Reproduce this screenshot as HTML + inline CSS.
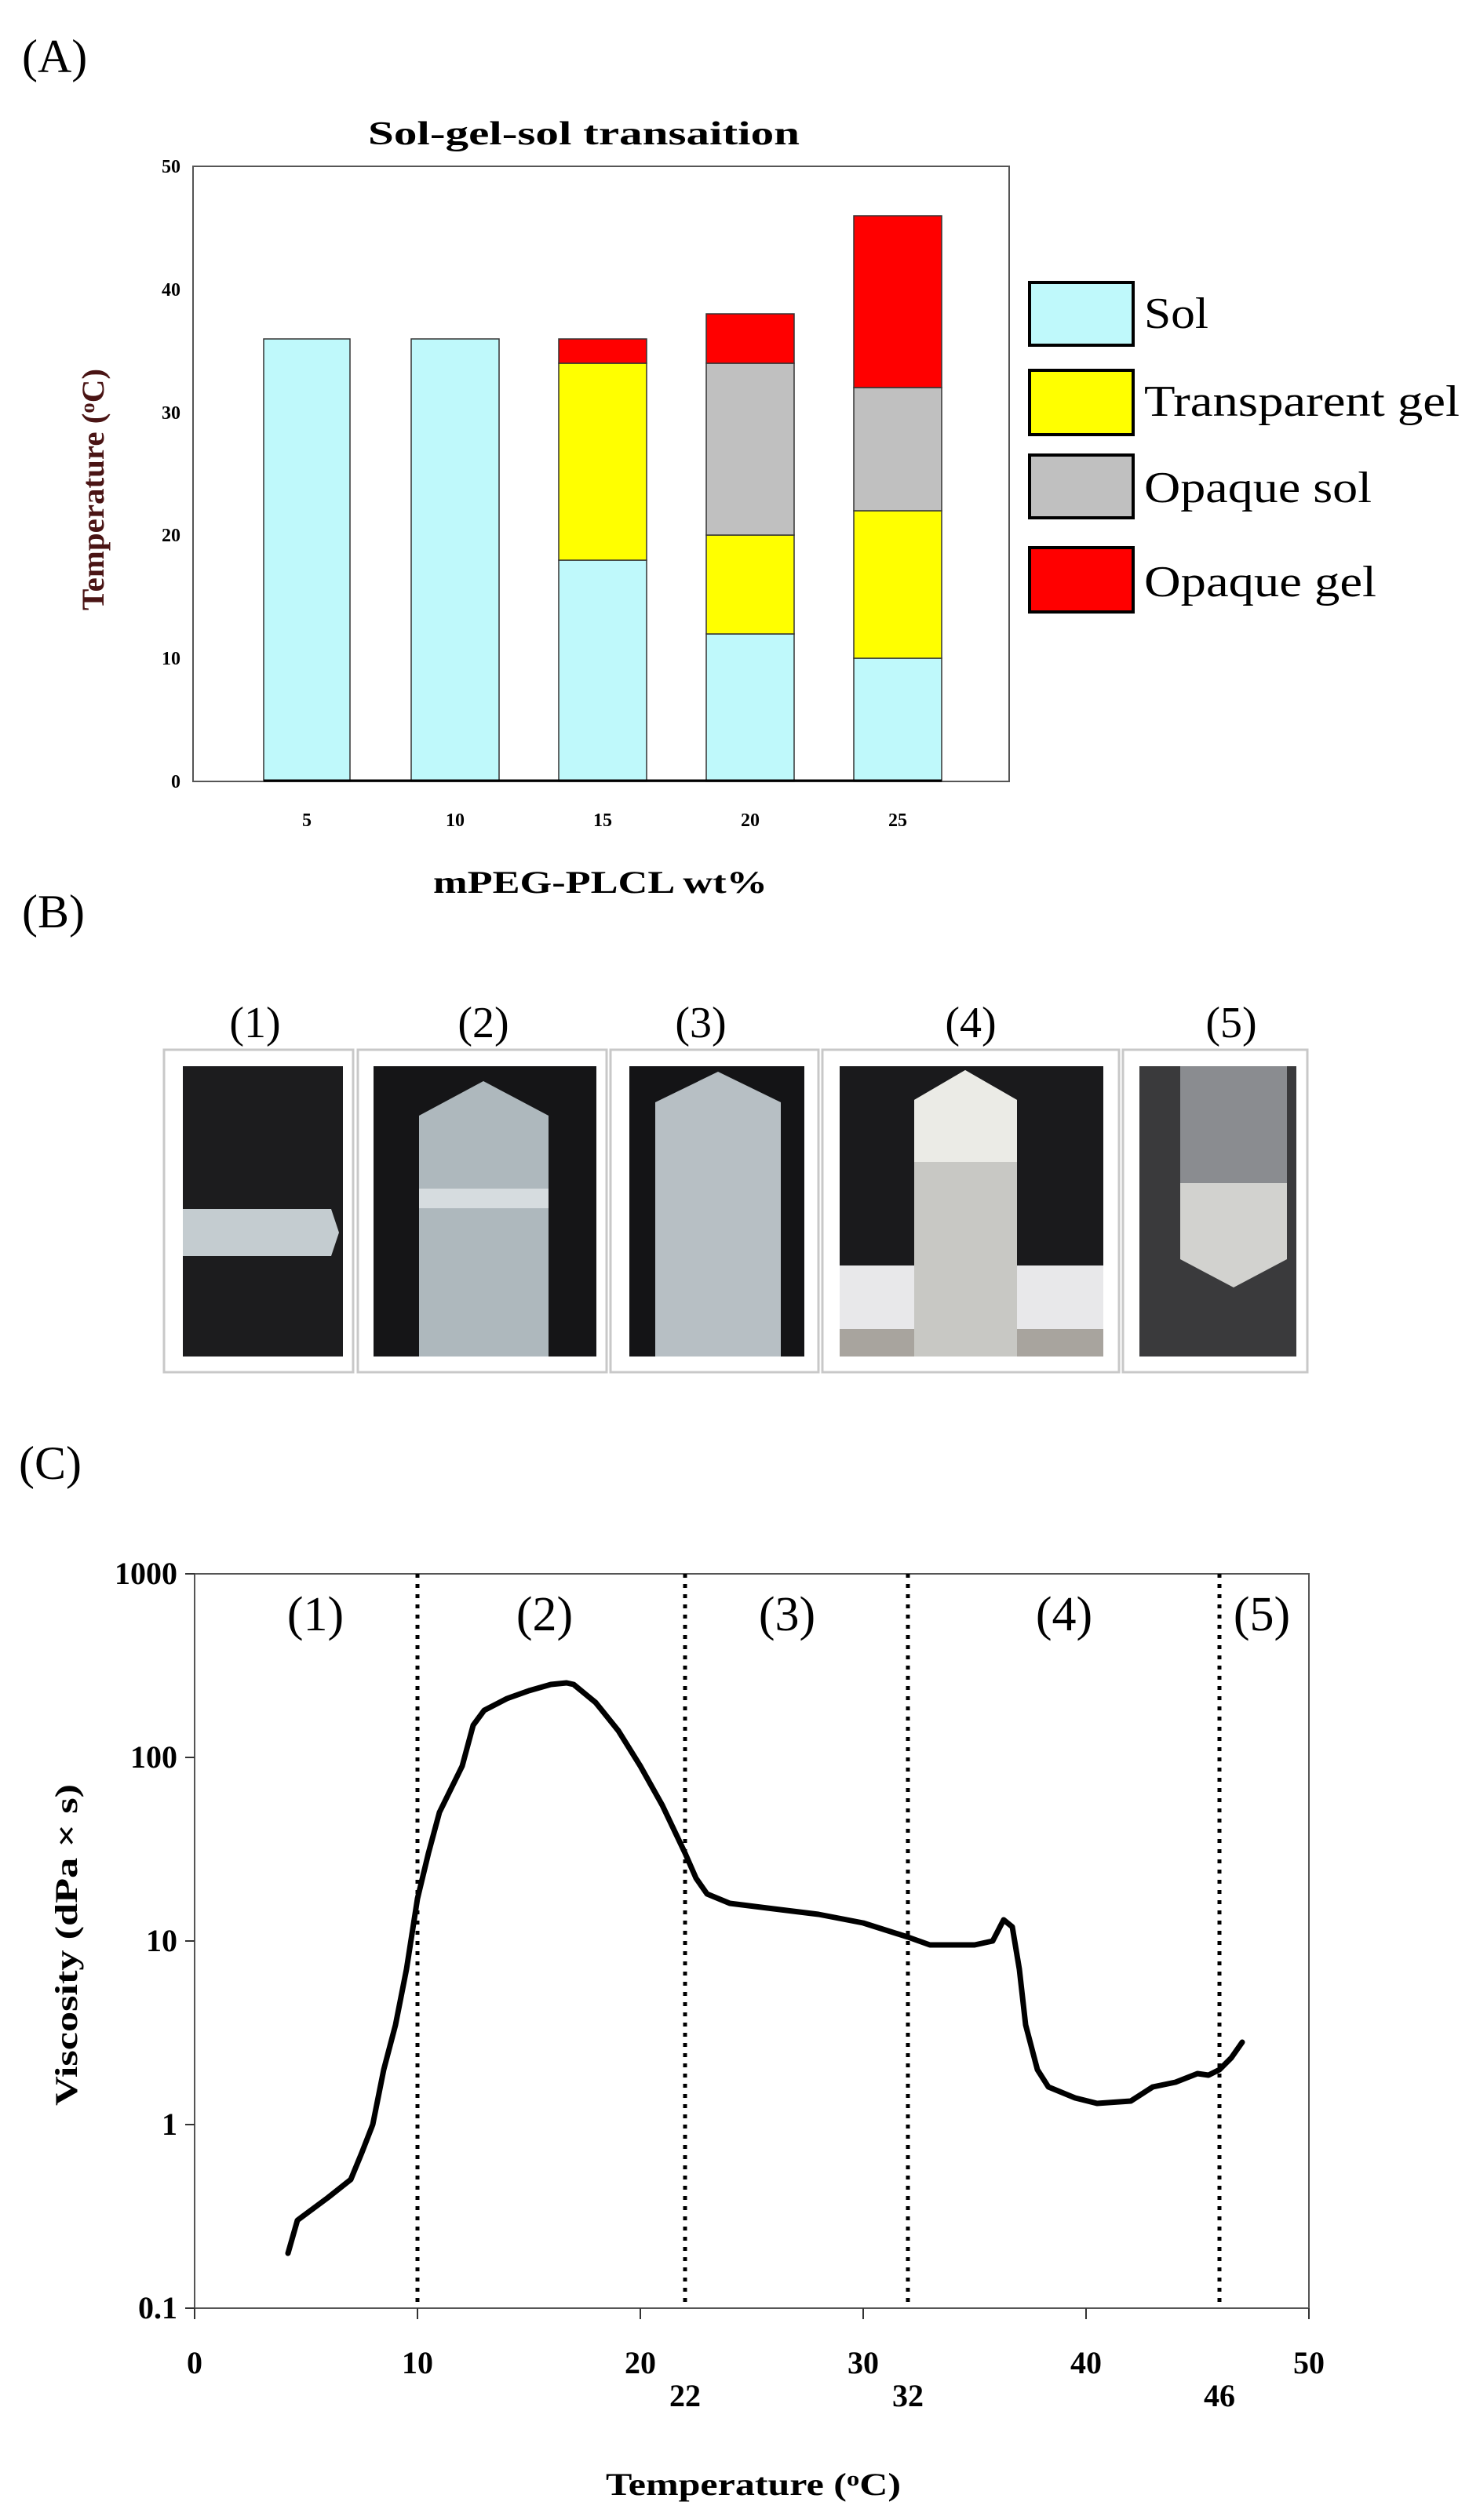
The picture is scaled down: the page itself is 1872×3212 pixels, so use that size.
<!DOCTYPE html>
<html><head><meta charset="utf-8"><style>html,body{margin:0;padding:0;background:#fff}svg{display:block}svg text{font-family:"Liberation Serif","Times New Roman",serif}</style></head>
<body>
<svg width="1872" height="3212" viewBox="0 0 1872 3212" xmlns="http://www.w3.org/2000/svg">
<!-- Panel A -->
<text x="28" y="92" font-size="60">(A)</text>
<text x="744" y="184" font-size="42" font-weight="bold" text-anchor="middle" textLength="550" lengthAdjust="spacingAndGlyphs">Sol-gel-sol transaition</text>
<rect x="246" y="212" width="1040" height="784" fill="none" stroke="#555" stroke-width="2"/>
<g font-size="24" font-weight="bold" text-anchor="end">
<text x="230" y="220">50</text><text x="230" y="377">40</text><text x="230" y="534">30</text>
<text x="230" y="690">20</text><text x="230" y="847">10</text><text x="230" y="1004">0</text>
</g>
<g stroke="#333" stroke-width="1.5">
<rect x="336" y="432" width="110" height="564" fill="#bff9fb"/>
<rect x="524" y="432" width="112" height="564" fill="#bff9fb"/>
<rect x="712" y="714" width="112" height="282" fill="#bff9fb"/>
<rect x="712" y="463" width="112" height="251" fill="#ffff00"/>
<rect x="712" y="432" width="112" height="31" fill="#ff0000"/>
<rect x="900" y="808" width="112" height="188" fill="#bff9fb"/>
<rect x="900" y="682" width="112" height="126" fill="#ffff00"/>
<rect x="900" y="463" width="112" height="219" fill="#c0c0c0"/>
<rect x="900" y="400" width="112" height="63" fill="#ff0000"/>
<rect x="1088" y="839" width="112" height="157" fill="#bff9fb"/>
<rect x="1088" y="651" width="112" height="188" fill="#ffff00"/>
<rect x="1088" y="494" width="112" height="157" fill="#c0c0c0"/>
<rect x="1088" y="275" width="112" height="219" fill="#ff0000"/>
</g>
<line x1="336" y1="995" x2="1200" y2="995" stroke="#000" stroke-width="3"/>
<g font-size="24" font-weight="bold" text-anchor="middle">
<text x="391" y="1053">5</text><text x="580" y="1053">10</text><text x="768" y="1053">15</text><text x="956" y="1053">20</text><text x="1144" y="1053">25</text>
</g>
<text x="765" y="1138" font-size="40" font-weight="bold" text-anchor="middle" textLength="426" lengthAdjust="spacingAndGlyphs">mPEG-PLCL wt%</text>
<text transform="translate(132,624) rotate(-90)" font-size="40" font-weight="bold" fill="#4a1414" text-anchor="middle" textLength="308" lengthAdjust="spacingAndGlyphs">Temperature (<tspan font-size="26" dy="-12">o</tspan><tspan dy="12">C)</tspan></text>
<g stroke="#000" stroke-width="4">
<rect x="1312" y="360" width="132" height="80" fill="#bff9fb"/>
<rect x="1312" y="472" width="132" height="82" fill="#ffff00"/>
<rect x="1312" y="580" width="132" height="80" fill="#c0c0c0"/>
<rect x="1312" y="698" width="132" height="82" fill="#ff0000"/>
</g>
<g font-size="56">
<text x="1458" y="418" textLength="82" lengthAdjust="spacingAndGlyphs">Sol</text>
<text x="1458" y="530" textLength="402" lengthAdjust="spacingAndGlyphs">Transparent gel</text>
<text x="1458" y="640" textLength="290" lengthAdjust="spacingAndGlyphs">Opaque sol</text>
<text x="1458" y="760" textLength="296" lengthAdjust="spacingAndGlyphs">Opaque gel</text>
</g>
<!-- Panel B -->
<text x="28" y="1182" font-size="60">(B)</text>
<g font-size="56" text-anchor="middle">
<text x="325" y="1322">(1)</text><text x="616" y="1322">(2)</text><text x="893" y="1322">(3)</text><text x="1237" y="1322">(4)</text><text x="1569" y="1322">(5)</text>
</g>
<g fill="#fff" stroke="#c8c8c8" stroke-width="3">
<rect x="209" y="1338" width="241" height="411"/>
<rect x="456" y="1338" width="317" height="411"/>
<rect x="778" y="1338" width="265" height="411"/>
<rect x="1048" y="1338" width="378" height="411"/>
<rect x="1431" y="1338" width="235" height="411"/>
</g>
<rect x="233" y="1359" width="204" height="370" fill="#1c1c1e"/>
<polygon points="233,1541 422,1541 432,1571 422,1601 233,1601" fill="#c4ccd0"/>
<rect x="476" y="1359" width="284" height="370" fill="#151517"/>
<polygon points="534,1729 534,1422 616,1378 699,1422 699,1729" fill="#aeb8bd"/>
<rect x="534" y="1515" width="165" height="25" fill="#d6dcdf"/>
<rect x="802" y="1359" width="223" height="370" fill="#141416"/>
<polygon points="835,1729 835,1405 915,1366 995,1405 995,1729" fill="#b7bfc4"/>
<rect x="1070" y="1359" width="336" height="370" fill="#1a1a1c"/>
<rect x="1070" y="1613" width="336" height="81" fill="#e8e8ea"/>
<rect x="1070" y="1694" width="336" height="35" fill="#a8a49e"/>
<polygon points="1165,1729 1165,1402 1230,1364 1296,1402 1296,1729" fill="#c8c8c4"/>
<polygon points="1165,1481 1165,1402 1230,1364 1296,1402 1296,1481" fill="#ebebe6"/>
<rect x="1452" y="1359" width="200" height="370" fill="#3a3a3c"/>
<rect x="1504" y="1359" width="136" height="150" fill="#8a8c90"/>
<polygon points="1504,1508 1640,1508 1640,1605 1572,1641 1504,1605" fill="#d2d2cf"/>
<!-- Panel C -->
<text x="24" y="1885" font-size="60">(C)</text>
<rect x="248" y="2006" width="1420" height="936" fill="none" stroke="#555" stroke-width="2"/>
<g stroke="#000" stroke-width="5" stroke-dasharray="5,8">
<line x1="532" y1="2006" x2="532" y2="2942"/>
<line x1="873" y1="2006" x2="873" y2="2942"/>
<line x1="1157" y1="2006" x2="1157" y2="2942"/>
<line x1="1554" y1="2006" x2="1554" y2="2942"/>
</g>
<g stroke="#333" stroke-width="2">
<line x1="248" y1="2942" x2="248" y2="2956"/><line x1="532" y1="2942" x2="532" y2="2956"/><line x1="816" y1="2942" x2="816" y2="2956"/><line x1="1100" y1="2942" x2="1100" y2="2956"/><line x1="1384" y1="2942" x2="1384" y2="2956"/><line x1="1668" y1="2942" x2="1668" y2="2956"/>
<line x1="236" y1="2006" x2="248" y2="2006"/><line x1="236" y1="2240" x2="248" y2="2240"/><line x1="236" y1="2474" x2="248" y2="2474"/><line x1="236" y1="2708" x2="248" y2="2708"/><line x1="236" y1="2942" x2="248" y2="2942"/>
</g>
<g font-size="62" text-anchor="middle">
<text x="402" y="2078">(1)</text><text x="694" y="2078">(2)</text><text x="1003" y="2078">(3)</text><text x="1356" y="2078">(4)</text><text x="1608" y="2078">(5)</text>
</g>
<g font-size="40" font-weight="bold" text-anchor="end">
<text x="226" y="2019">1000</text><text x="226" y="2253">100</text><text x="226" y="2487">10</text><text x="226" y="2721">1</text><text x="226" y="2955">0.1</text>
</g>
<g font-size="40" font-weight="bold" text-anchor="middle">
<text x="248" y="3025">0</text><text x="532" y="3025">10</text><text x="816" y="3025">20</text><text x="1100" y="3025">30</text><text x="1384" y="3025">40</text><text x="1668" y="3025">50</text>
<text x="873" y="3067">22</text><text x="1157" y="3067">32</text><text x="1554" y="3067">46</text>
</g>
<text x="960" y="3180" font-size="40" font-weight="bold" text-anchor="middle" textLength="376" lengthAdjust="spacingAndGlyphs">Temperature (<tspan font-size="26" dy="-12">o</tspan><tspan dy="12">C)</tspan></text>
<text transform="translate(98,2479) rotate(-90)" font-size="40" font-weight="bold" text-anchor="middle" textLength="410" lengthAdjust="spacingAndGlyphs">Viscosity (dPa × s)</text>
<polyline fill="none" stroke="#000" stroke-width="7" stroke-linejoin="round" stroke-linecap="round" points="367,2872 379,2830 418,2801 447,2778 461,2744 475,2708 489,2638 504,2581 518,2510 532,2420 546,2362 560,2310 589,2251 603,2199 617,2180 646,2165 674,2155 702,2147 722,2145 731,2147 759,2170 788,2206 816,2251 844,2301 873,2362 887,2394 901,2414 930,2426 986,2433 1043,2440 1100,2451 1157,2469 1185,2479 1242,2479 1265,2474 1279,2447 1290,2456 1299,2510 1307,2581 1322,2638 1336,2660 1370,2674 1398,2681 1441,2678 1469,2660 1498,2654 1526,2643 1540,2645 1554,2638 1569,2623 1583,2603"/>
</svg>
</body></html>
